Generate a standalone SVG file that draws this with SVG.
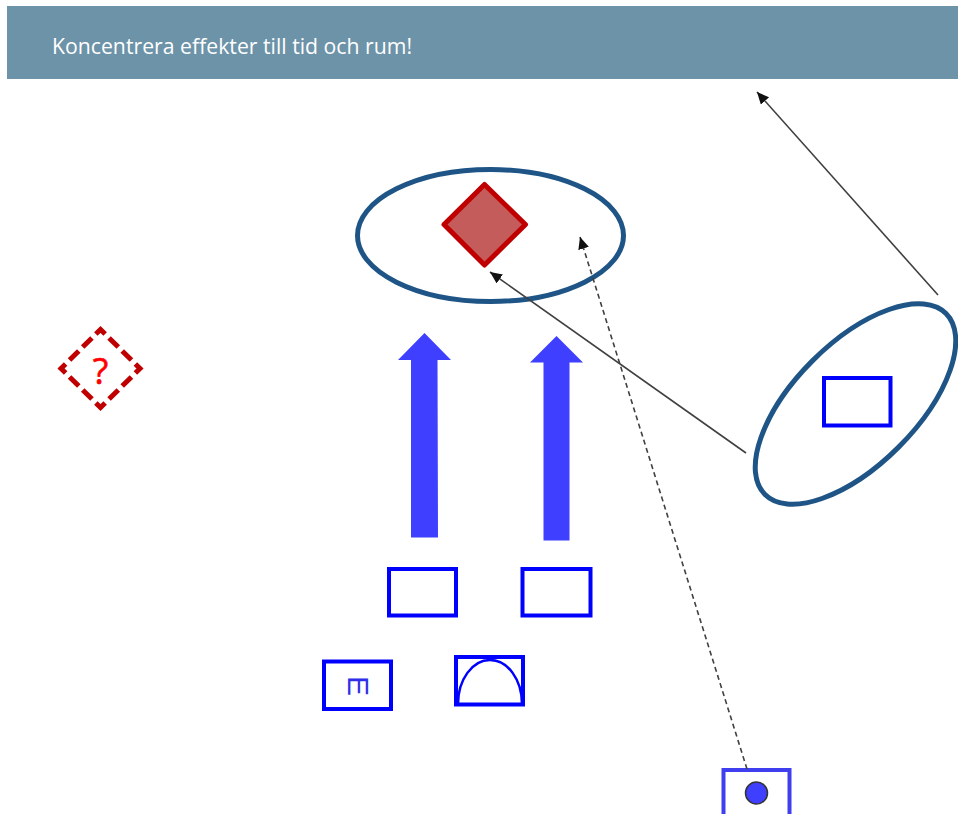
<svg xmlns="http://www.w3.org/2000/svg" width="958" height="814" viewBox="0 0 958 814">
<defs>
<style>
.box{fill:#fff;stroke:#0000ff;stroke-width:4}
.ell{fill:none;stroke:#1f5586;stroke-width:5}
.big{fill:#3f3fff}
.line{fill:none;stroke:#404040;stroke-width:1.6}
.dash{stroke-dasharray:5 3.5}
</style>
<marker id="ah" markerUnits="userSpaceOnUse" markerWidth="14" markerHeight="12" refX="12" refY="5.5" orient="auto"><path d="M0 0L12 5.5L0 11z" fill="#111"/></marker>
</defs>
<rect width="958" height="814" fill="#fff"/>
<g id="header">
<rect x="7" y="6" width="951" height="73" fill="#6d93a9"/>
<text x="52" y="54" font-family="'Open Sans','Noto Sans',sans-serif" font-size="21" fill="#fff" textLength="360" lengthAdjust="spacingAndGlyphs">Koncentrera effekter till tid och rum!</text>
</g>
<g id="target-ellipse"><ellipse class="ell" cx="490.500" cy="235.500" rx="133" ry="66"/></g>
<g id="target-diamond"><path d="M484.500 184.500L525.500 224.500L484.500 265L444 224.500Z" fill="#c45c5c" stroke="#c00000" stroke-width="5" stroke-linejoin="round"/></g>
<g id="question-diamond">
<path d="M100.500 329.500L140 368.500L100.500 407.500L61 368.500Z" fill="none" stroke="#c00000" stroke-width="5" stroke-dasharray="13 5.500" stroke-dashoffset="6.500"/>
<text x="100.500" y="384" text-anchor="middle" font-family="'Open Sans','Noto Sans',sans-serif" font-size="36" fill="#ff0000" stroke="#ff0000" stroke-width="0.600">?</text>
</g>
<g id="right-ellipse"><ellipse class="ell" cx="855.500" cy="404" rx="128" ry="61" transform="rotate(-45 855.500 404)"/></g>
<g id="right-box"><rect class="box" x="824" y="378" width="66.500" height="47.500"/></g>
<g id="arrow-left"><path class="big" d="M424.500 333L451 360H437.500L438 537.500H411V360H398Z"/></g>
<g id="arrow-right"><path class="big" d="M556.500 336L583 362.500H569.500V540.500H543.500V362.500H530Z"/></g>
<g id="box-left"><rect class="box" x="389" y="569" width="67" height="46.500"/></g>
<g id="box-right"><rect class="box" x="522.500" y="569" width="68" height="46.500"/></g>
<g id="box-e">
<rect class="box" x="324" y="661.500" width="67" height="47.500"/>
<text transform="translate(348 676) rotate(90)" font-family="'Liberation Sans',sans-serif" font-size="30" fill="#2f2fe8">E</text>
</g>
<g id="box-arc">
<rect class="box" x="456" y="657" width="67" height="47.500"/>
<path d="M458 704A32 44 0 0 1 522 704" fill="none" stroke="#0000ff" stroke-width="2.500"/>
</g>
<g id="box-dot">
<rect x="723.500" y="770" width="66" height="48" fill="#fff" stroke="#3f3ff0" stroke-width="4"/>
<circle cx="756.500" cy="793" r="11" fill="#3f3fff" stroke="#333" stroke-width="1.500"/>
</g>
<g id="connectors">
<line class="line" x1="938" y1="295" x2="757" y2="92" marker-end="url(#ah)"/>
<line class="line" x1="746" y1="453" x2="490" y2="272" marker-end="url(#ah)"/>
<line class="line dash" x1="747" y1="769" x2="580" y2="237" marker-end="url(#ah)"/>
</g>
</svg>
